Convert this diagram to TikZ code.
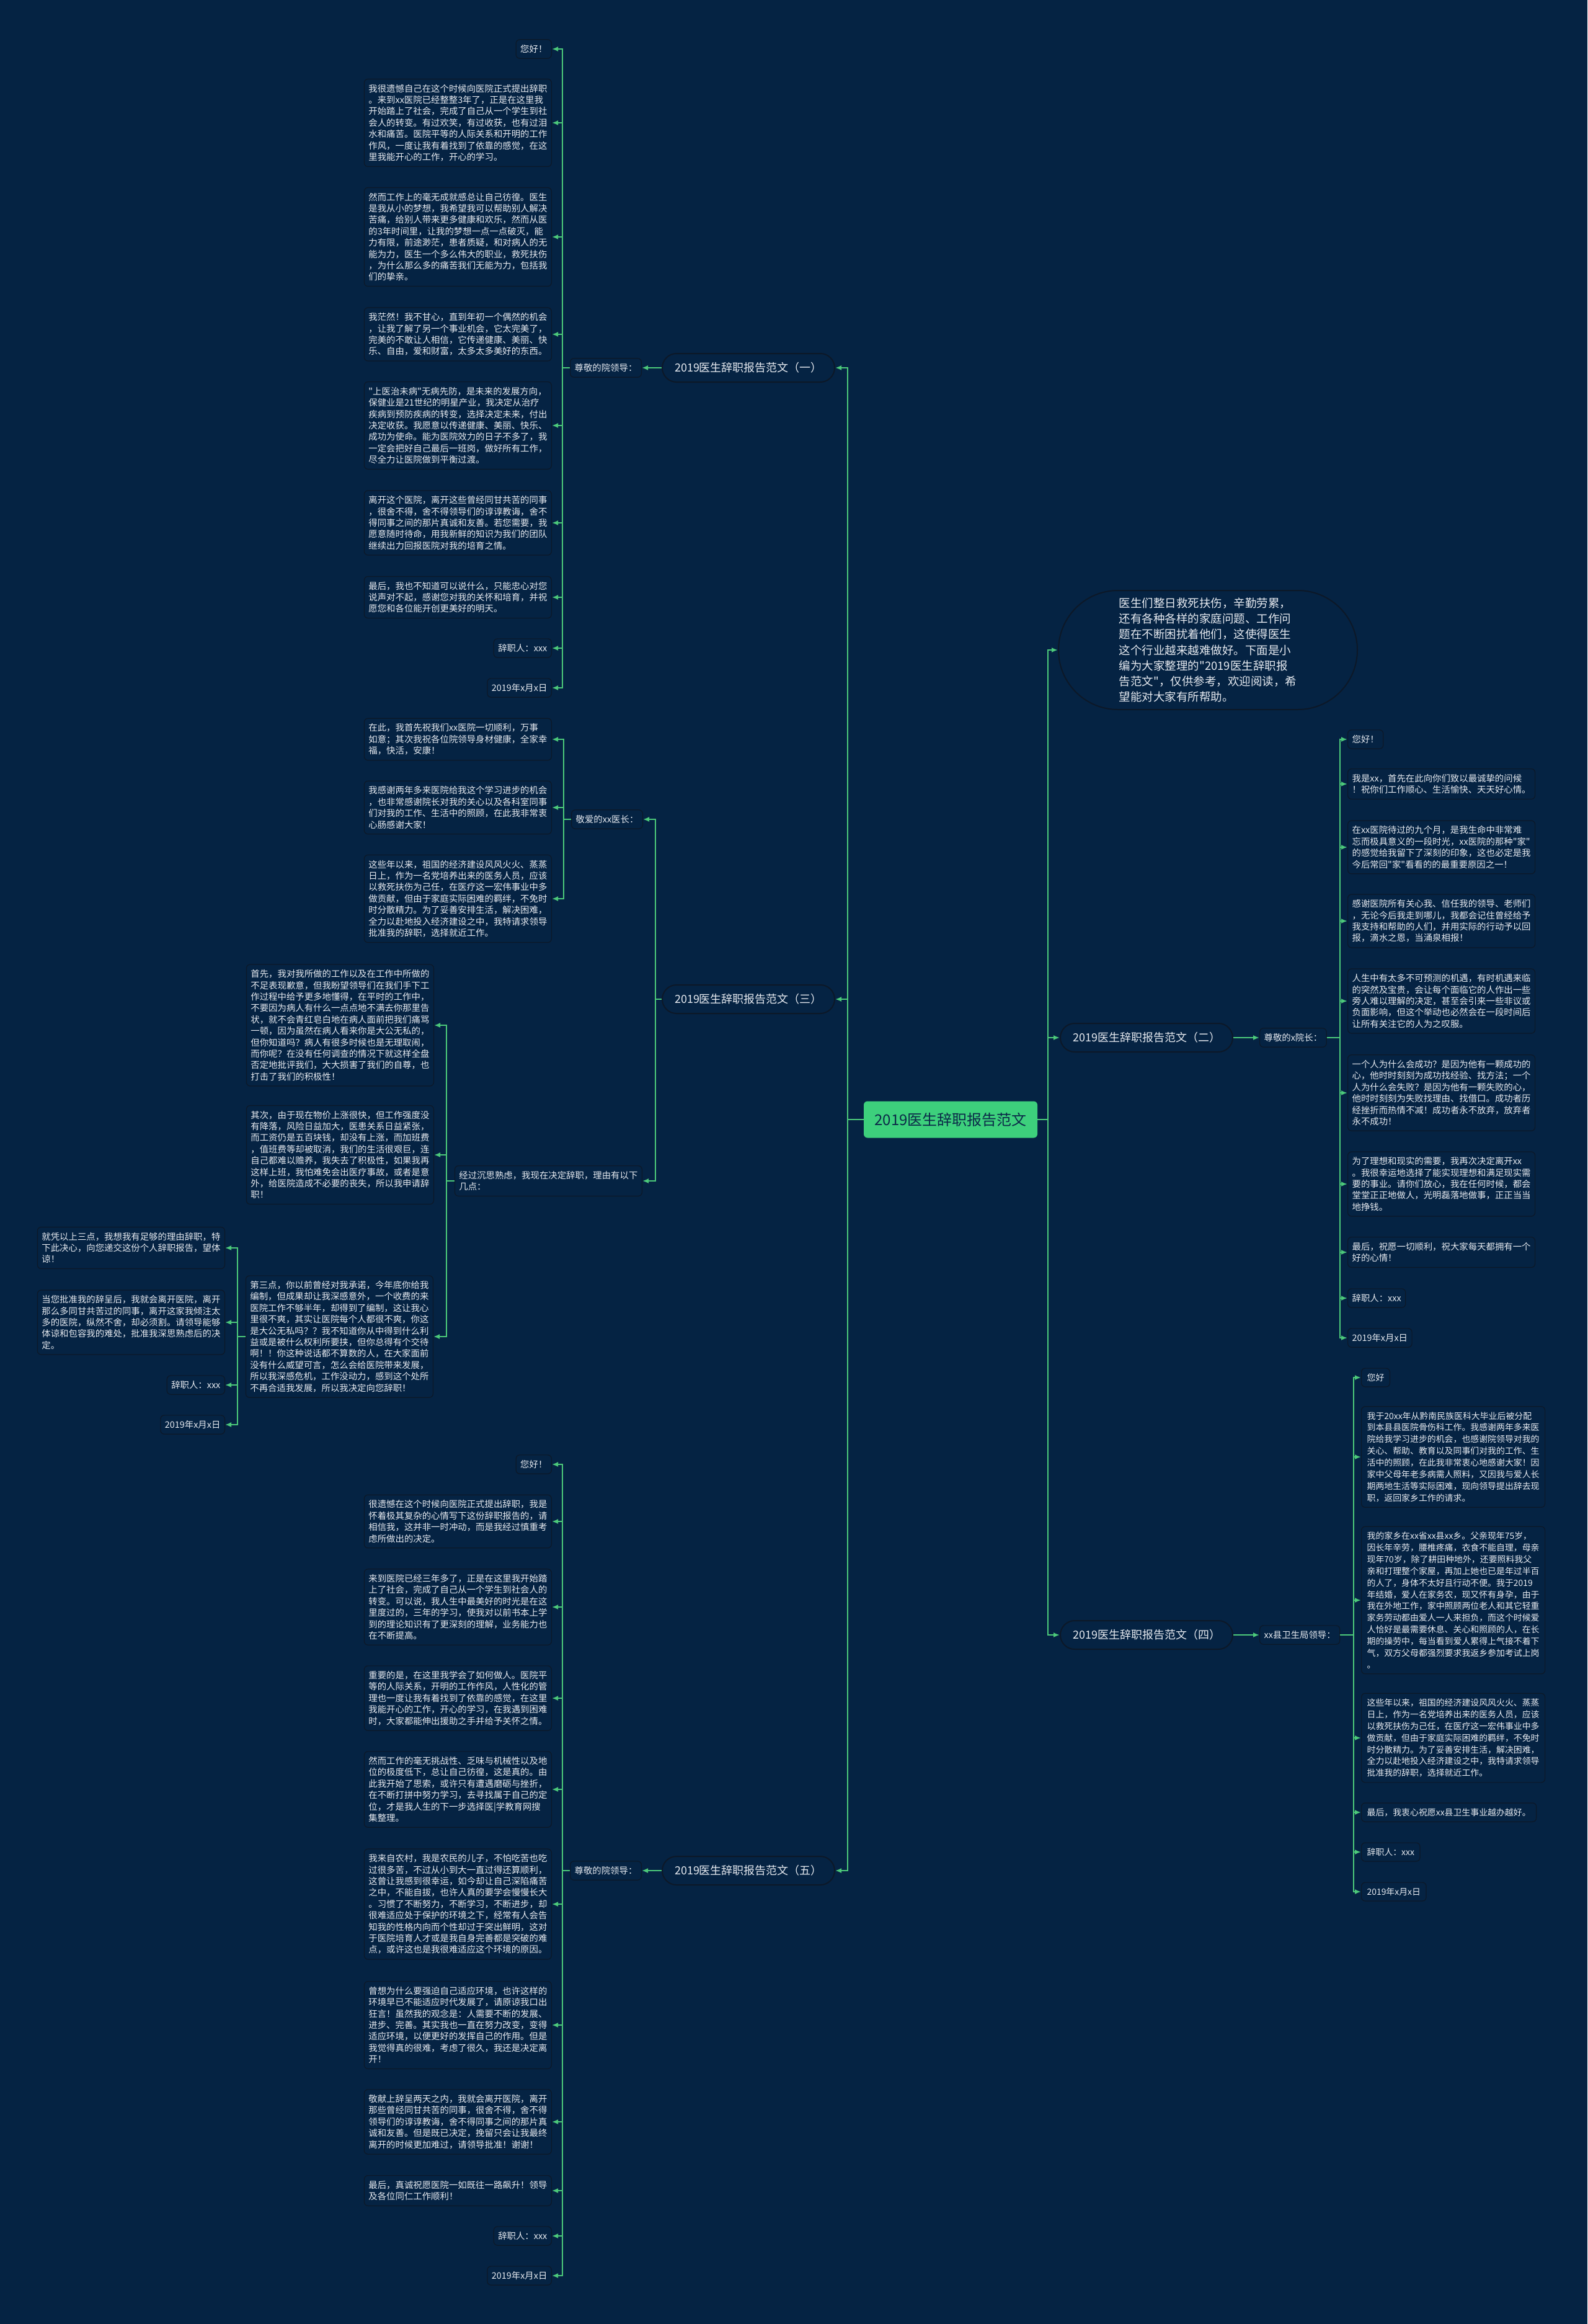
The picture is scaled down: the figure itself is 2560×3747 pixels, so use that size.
\documentclass[tikz,border=0pt]{standalone}
\usepackage{fontspec}
\newfontfamily\cjk{Noto Sans CJK SC}
\usetikzlibrary{arrows.meta}
\definecolor{bgc}{HTML}{052343}
\definecolor{lineg}{HTML}{4CC97A}
\definecolor{boxedge}{HTML}{0C1828}
\definecolor{txt}{HTML}{E6EAF0}
\definecolor{cgreen}{HTML}{3DD07C}
\definecolor{ctext}{HTML}{0B2A48}
\newcommand\leaffont{\cjk\fontsize{14.4}{18.4}\selectfont}
\newcommand\gfont{\cjk\fontsize{13.9}{18.9}\selectfont}
\newcommand\introfont{\cjk\fontsize{18.5}{25.2}\selectfont}
\newcommand\brfont{\cjk\fontsize{18}{22}\selectfont}
\newcommand\rootfont{\cjk\fontsize{24}{28}\selectfont}
\tikzset{
 leaf/.style={draw=boxedge, line width=1.2pt, fill=bgc, rounded corners=6pt, text=txt, font=\leaffont, align=left, inner xsep=7pt, inner ysep=8.5pt},
 gleaf/.style={leaf, font=\gfont, inner xsep=9pt},
 branch/.style={draw=boxedge, line width=2pt, fill=bgc, rounded corners=23pt, minimum width=278pt, minimum height=46pt, text=txt, font=\brfont, inner sep=0pt},
 rootnode/.style={fill=cgreen, rounded corners=6pt, minimum width=280pt, minimum height=59pt, text=ctext, font=\rootfont, inner sep=0pt},
 intro/.style={draw=boxedge, line width=2pt, fill=bgc, rounded corners=96pt, minimum width=482pt, minimum height=192pt, text=txt, font=\introfont, align=left, inner sep=0pt},
 conn/.style={draw=lineg, line width=2pt, -{Latex[length=10pt,width=8pt]}}
}
\begin{document}
\begin{tikzpicture}[x=1pt,y=-1pt]
\fill[bgc] (0,0) rectangle (2560,3747);
\useasboundingbox (0,0) rectangle (2560,3747);

% root
\node[rootnode] (root) at (1533,1805) {2019医生辞职报告范文};

% level 1
\node[branch] (br1) at (1207,593) {2019医生辞职报告范文（一）};
\node[branch] (br3) at (1207,1611) {2019医生辞职报告范文（三）};
\node[branch] (br5) at (1207,3016) {2019医生辞职报告范文（五）};
\node[intro] (intro) at (1948,1048) {医生们整日救死扶伤，辛勤劳累，\\还有各种各样的家庭问题、工作问\\题在不断困扰着他们，这使得医生\\这个行业越来越难做好。下面是小\\编为大家整理的"2019医生辞职报\\告范文"，仅供参考，欢迎阅读，希\\望能对大家有所帮助。};
\node[branch] (br2) at (1849,1673) {2019医生辞职报告范文（二）};
\node[branch] (br4) at (1849,2636) {2019医生辞职报告范文（四）};

% labels
\node[leaf, anchor=east] (lab1) at (1035,593) {尊敬的院领导：};
\node[leaf, anchor=east] (labA) at (1037,1321) {敬爱的xx医长：};
\node[leaf, anchor=east] (labB) at (1036,1904) {经过沉思熟虑，我现在决定辞职，理由有以下\\几点：};
\node[leaf, anchor=east] (lab5) at (1035,3016) {尊敬的院领导：};
\node[leaf, anchor=west] (lab2) at (2031,1673) {尊敬的x院长：};
\node[leaf, anchor=west] (lab4) at (2031,2636) {xx县卫生局领导：};

% branch 1 leaves
\node[leaf, anchor=east] (p1) at (890,79) {您好！};
\node[leaf, anchor=east] (p2) at (890,198) {我很遗憾自己在这个时候向医院正式提出辞职\\。来到xx医院已经整整3年了，正是在这里我\\开始踏上了社会，完成了自己从一个学生到社\\会人的转变。有过欢笑，有过收获，也有过泪\\水和痛苦。医院平等的人际关系和开明的工作\\作风，一度让我有着找到了依靠的感觉，在这\\里我能开心的工作，开心的学习。};
\node[leaf, anchor=east] (p3) at (890,382) {然而工作上的毫无成就感总让自己彷徨。医生\\是我从小的梦想，我希望我可以帮助别人解决\\苦痛，给别人带来更多健康和欢乐，然而从医\\的3年时间里，让我的梦想一点一点破灭，能\\力有限，前途渺茫，患者质疑，和对病人的无\\能为力，医生一个多么伟大的职业，救死扶伤\\，为什么那么多的痛苦我们无能为力，包括我\\们的挚亲。};
\node[leaf, anchor=east] (p4) at (890,539) {我茫然！我不甘心，直到年初一个偶然的机会\\，让我了解了另一个事业机会，它太完美了，\\完美的不敢让人相信，它传递健康、美丽、快\\乐、自由，爱和财富，太多太多美好的东西。};
\node[leaf, anchor=east] (p5) at (890,686) {"上医治未病"无病先防，是未来的发展方向，\\保健业是21世纪的明星产业，我决定从治疗\\疾病到预防疾病的转变，选择决定未来，付出\\决定收获。我愿意以传递健康、美丽、快乐、\\成功为使命。能为医院效力的日子不多了，我\\一定会把好自己最后一班岗，做好所有工作，\\尽全力让医院做到平衡过渡。};
\node[leaf, anchor=east] (p6) at (890,843) {离开这个医院，离开这些曾经同甘共苦的同事\\，很舍不得，舍不得领导们的谆谆教诲，舍不\\得同事之间的那片真诚和友善。若您需要，我\\愿意随时待命，用我新鲜的知识为我们的团队\\继续出力回报医院对我的培育之情。};
\node[leaf, anchor=east] (p7) at (890,963) {最后，我也不知道可以说什么，只能忠心对您\\说声对不起，感谢您对我的关怀和培育，并祝\\愿您和各位能开创更美好的明天。};
\node[leaf, anchor=east] (p8) at (890,1045) {辞职人：xxx};
\node[leaf, anchor=east] (p9) at (890,1109) {2019年x月x日};

% branch 3 leaves (A)
\node[leaf, anchor=east] (a1) at (890,1192) {在此，我首先祝我们xx医院一切顺利，万事\\如意；其次我祝各位院领导身材健康，全家幸\\福，快活，安康！};
\node[leaf, anchor=east] (a2) at (890,1302) {我感谢两年多来医院给我这个学习进步的机会\\，也非常感谢院长对我的关心以及各科室同事\\们对我的工作、生活中的照顾，在此我非常衷\\心肠感谢大家！};
\node[leaf, anchor=east] (a3) at (890,1449) {这些年以来，祖国的经济建设风风火火、蒸蒸\\日上，作为一名党培养出来的医务人员，应该\\以救死扶伤为己任，在医疗这一宏伟事业中多\\做贡献，但由于家庭实际困难的羁绊，不免时\\时分散精力。为了妥善安排生活，解决困难，\\全力以赴地投入经济建设之中，我特请求领导\\批准我的辞职，选择就近工作。};

% branch 3 leaves (B)
\node[leaf, anchor=east] (q1) at (700,1653) {首先，我对我所做的工作以及在工作中所做的\\不足表现歉意，但我盼望领导们在我们手下工\\作过程中给予更多地懂得，在平时的工作中，\\不要因为病人有什么一点点地不满去你那里告\\状，就不会青红皂白地在病人面前把我们痛骂\\一顿，因为虽然在病人看来你是大公无私的，\\但你知道吗？病人有很多时候也是无理取闹，\\而你呢？在没有任何调查的情况下就这样全盘\\否定地批评我们，大大损害了我们的自尊，也\\打击了我们的积极性！};
\node[leaf, anchor=east] (q2) at (700,1862) {其次，由于现在物价上涨很快，但工作强度没\\有降落，风险日益加大，医患关系日益紧张，\\而工资仍是五百块钱，却没有上涨，而加班费\\，值班费等却被取消，我们的生活很艰巨，连\\自己都难以赡养，我失去了积极性，如果我再\\这样上班，我怕难免会出医疗事故，或者是意\\外，给医院造成不必要的丧失，所以我申请辞\\职！};
\node[leaf, anchor=east] (q3) at (699,2155) {第三点，你以前曾经对我承诺，今年底你给我\\编制，但成果却让我深感意外，一个收费的来\\医院工作不够半年，却得到了编制，这让我心\\里很不爽，其实让医院每个人都很不爽，你这\\是大公无私吗？？我不知道你从中得到什么利\\益或是被什么权利所要挟，但你总得有个交待\\啊！！你这种说话都不算数的人，在大家面前\\没有什么威望可言，怎么会给医院带来发展，\\所以我深感危机，工作没动力，感到这个处所\\不再合适我发展，所以我决定向您辞职！};
\node[leaf, anchor=east] (c1) at (363,2012) {就凭以上三点，我想我有足够的理由辞职，特\\下此决心，向您递交这份个人辞职报告，望体\\谅！};
\node[leaf, anchor=east] (c2) at (363,2132) {当您批准我的辞呈后，我就会离开医院，离开\\那么多同甘共苦过的同事，离开这家我倾注太\\多的医院，纵然不舍，却必须割。请领导能够\\体谅和包容我的难处，批准我深思熟虑后的决\\定。};
\node[leaf, anchor=east] (c3) at (363,2233) {辞职人：xxx};
\node[leaf, anchor=east] (c4) at (363,2297) {2019年x月x日};

% branch 5 leaves
\node[leaf, anchor=east] (e1) at (890,2361) {您好！};
\node[leaf, anchor=east] (e2) at (890,2453) {很遗憾在这个时候向医院正式提出辞职，我是\\怀着极其复杂的心情写下这份辞职报告的，请\\相信我，这并非一时冲动，而是我经过慎重考\\虑所做出的决定。};
\node[leaf, anchor=east] (e3) at (890,2591) {来到医院已经三年多了，正是在这里我开始踏\\上了社会，完成了自己从一个学生到社会人的\\转变。可以说，我人生中最美好的时光是在这\\里度过的，三年的学习，使我对以前书本上学\\到的理论知识有了更深刻的理解，业务能力也\\在不断提高。};
\node[leaf, anchor=east] (e4) at (890,2738) {重要的是，在这里我学会了如何做人。医院平\\等的人际关系，开明的工作作风，人性化的管\\理也一度让我有着找到了依靠的感觉，在这里\\我能开心的工作，开心的学习，在我遇到困难\\时，大家都能伸出援助之手并给予关怀之情。};
\node[leaf, anchor=east] (e5) at (890,2885) {然而工作的毫无挑战性、乏味与机械性以及地\\位的极度低下，总让自己彷徨，这是真的。由\\此我开始了思索，或许只有遭遇磨砺与挫折，\\在不断打拼中努力学习，去寻找属于自己的定\\位，才是我人生的下一步选择医|学教育网搜\\集整理。};
\node[leaf, anchor=east] (e6) at (890,3070) {我来自农村，我是农民的儿子，不怕吃苦也吃\\过很多苦，不过从小到大一直过得还算顺利，\\这曾让我感到很幸运，如今却让自己深陷痛苦\\之中，不能自拔，也许人真的要学会慢慢长大\\。习惯了不断努力，不断学习，不断进步，却\\很难适应处于保护的环境之下，经常有人会告\\知我的性格内向而个性却过于突出鲜明，这对\\于医院培育人才或是我自身完善都是突破的难\\点，或许这也是我很难适应这个环境的原因。};
\node[leaf, anchor=east] (e7) at (890,3265) {曾想为什么要强迫自己适应环境，也许这样的\\环境早已不能适应时代发展了，请原谅我口出\\狂言！虽然我的观念是：人需要不断的发展、\\进步、完善。其实我也一直在努力改变，变得\\适应环境，以便更好的发挥自己的作用。但是\\我觉得真的很难，考虑了很久，我还是决定离\\开！};
\node[leaf, anchor=east] (e8) at (890,3421) {敬献上辞呈两天之内，我就会离开医院，离开\\那些曾经同甘共苦的同事，很舍不得，舍不得\\领导们的谆谆教诲，舍不得同事之间的那片真\\诚和友善。但是既已决定，挽留只会让我最终\\离开的时候更加难过，请领导批准！谢谢！};
\node[leaf, anchor=east] (e9) at (890,3532) {最后，真诚祝愿医院一如既往一路飙升！领导\\及各位同仁工作顺利！};
\node[leaf, anchor=east] (e10) at (890,3605) {辞职人：xxx};
\node[leaf, anchor=east] (e11) at (890,3669) {2019年x月x日};

% branch 2 leaves
\node[leaf, anchor=west] (f1) at (2173,1192) {您好！};
\node[leaf, anchor=west] (f2) at (2173,1264) {我是xx，首先在此向你们致以最诚挚的问候\\！祝你们工作顺心、生活愉快、天天好心情。};
\node[leaf, anchor=west] (f3) at (2173,1366) {在xx医院待过的九个月，是我生命中非常难\\忘而极具意义的一段时光，xx医院的那种"家"\\的感觉给我留下了深刻的印象，这也必定是我\\今后常回"家"看看的的最重要原因之一！};
\node[leaf, anchor=west] (f4) at (2173,1485) {感谢医院所有关心我、信任我的领导、老师们\\，无论今后我走到哪儿，我都会记住曾经给予\\我支持和帮助的人们，并用实际的行动予以回\\报，滴水之恩，当涌泉相报！};
\node[leaf, anchor=west] (f5) at (2173,1614) {人生中有太多不可预测的机遇，有时机遇来临\\的突然及宝贵，会让每个面临它的人作出一些\\旁人难以理解的决定，甚至会引来一些非议或\\负面影响，但这个举动也必然会在一段时间后\\让所有关注它的人为之叹服。};
\node[leaf, anchor=west] (f6) at (2173,1762) {一个人为什么会成功？是因为他有一颗成功的\\心，他时时刻刻为成功找经验、找方法；一个\\人为什么会失败？是因为他有一颗失败的心，\\他时时刻刻为失败找理由、找借口。成功者历\\经挫折而热情不减！成功者永不放弃，放弃者\\永不成功！};
\node[leaf, anchor=west] (f7) at (2173,1909) {为了理想和现实的需要，我再次决定离开xx\\。我很幸运地选择了能实现理想和满足现实需\\要的事业。请你们放心，我在任何时候，都会\\堂堂正正地做人，光明磊落地做事，正正当当\\地挣钱。};
\node[leaf, anchor=west] (f8) at (2173,2019) {最后，祝愿一切顺利，祝大家每天都拥有一个\\好的心情！};
\node[leaf, anchor=west] (f9) at (2173,2093) {辞职人：xxx};
\node[leaf, anchor=west] (f10) at (2173,2157) {2019年x月x日};

% branch 4 leaves
\node[gleaf, anchor=west] (g1) at (2195,2221) {您好};
\node[gleaf, anchor=west] (g2) at (2195,2349) {我于20xx年从黔南民族医科大毕业后被分配\\到本县县医院骨伤科工作。我感谢两年多来医\\院给我学习进步的机会，也感谢院领导对我的\\关心、帮助、教育以及同事们对我的工作、生\\活中的照顾，在此我非常衷心地感谢大家！因\\家中父母年老多病需人照料，又因我与爱人长\\期两地生活等实际困难，现向领导提出辞去现\\职，返回家乡工作的请求。};
\node[gleaf, anchor=west] (g3) at (2195,2580) {我的家乡在xx省xx县xx乡。父亲现年75岁，\\因长年辛劳，腰椎疼痛，衣食不能自理，母亲\\现年70岁，除了耕田种地外，还要照料我父\\亲和打理整个家屋，再加上她也已是年过半百\\的人了，身体不太好且行动不便。我于2019\\年结婚，爱人在家务农，现又怀有身孕，由于\\我在外地工作，家中照顾两位老人和其它轻重\\家务劳动都由爱人一人来担负，而这个时候爱\\人恰好是最需要休息、关心和照顾的人，在长\\期的操劳中，每当看到爱人累得上气接不着下\\气，双方父母都强烈要求我返乡参加考试上岗\\。};
\node[gleaf, anchor=west] (g4) at (2195,2802) {这些年以来，祖国的经济建设风风火火、蒸蒸\\日上，作为一名党培养出来的医务人员，应该\\以救死扶伤为己任，在医疗这一宏伟事业中多\\做贡献，但由于家庭实际困难的羁绊，不免时\\时分散精力。为了妥善安排生活，解决困难，\\全力以赴地投入经济建设之中，我特请求领导\\批准我的辞职，选择就近工作。};
\node[gleaf, anchor=west] (g5) at (2195,2922) {最后，我衷心祝愿xx县卫生事业越办越好。};
\node[gleaf, anchor=west] (g6) at (2195,2986) {辞职人：xxx};
\node[gleaf, anchor=west] (g7) at (2195,3050) {2019年x月x日};

% connectors: root
\foreach \t in {br1,br3,br5} \draw[conn] (root.west) -- ++(-26,0) |- (\t.east);
\foreach \t in {intro,br2,br4} \draw[conn] (root.east) -- ++(17,0) |- (\t.west);
% level 1 -> labels
\draw[conn] (br1.west) -- (lab1.east);
\draw[conn] (br5.west) -- (lab5.east);
\draw[conn] (br2.east) -- (lab2.west);
\draw[conn] (br4.east) -- (lab4.west);
\foreach \t in {labA,labB} \draw[conn] (br3.west) -- ++(-10,0) |- (\t.east);
% labels -> leaves
\foreach \t in {p1,p2,p3,p4,p5,p6,p7,p8,p9} \draw[conn] (lab1.west) -- ++(-12,0) |- (\t.east);
\foreach \t in {a1,a2,a3} \draw[conn] (labA.west) -- ++(-12,0) |- (\t.east);
\foreach \t in {q1,q2,q3} \draw[conn] (labB.west) -- ++(-13,0) |- (\t.east);
\foreach \t in {c1,c2,c3,c4} \draw[conn] (q3.west) -- ++(-13,0) |- (\t.east);
\foreach \t in {e1,e2,e3,e4,e5,e6,e7,e8,e9,e10,e11} \draw[conn] (lab5.west) -- ++(-12,0) |- (\t.east);
\foreach \t in {f1,f2,f3,f4,f5,f6,f7,f8,f9,f10} \draw[conn] (lab2.east) -- ++(21,0) |- (\t.west);
\foreach \t in {g1,g2,g3,g4,g5,g6,g7} \draw[conn] (lab4.east) -- ++(22,0) |- (\t.west);
\end{tikzpicture}
\end{document}
